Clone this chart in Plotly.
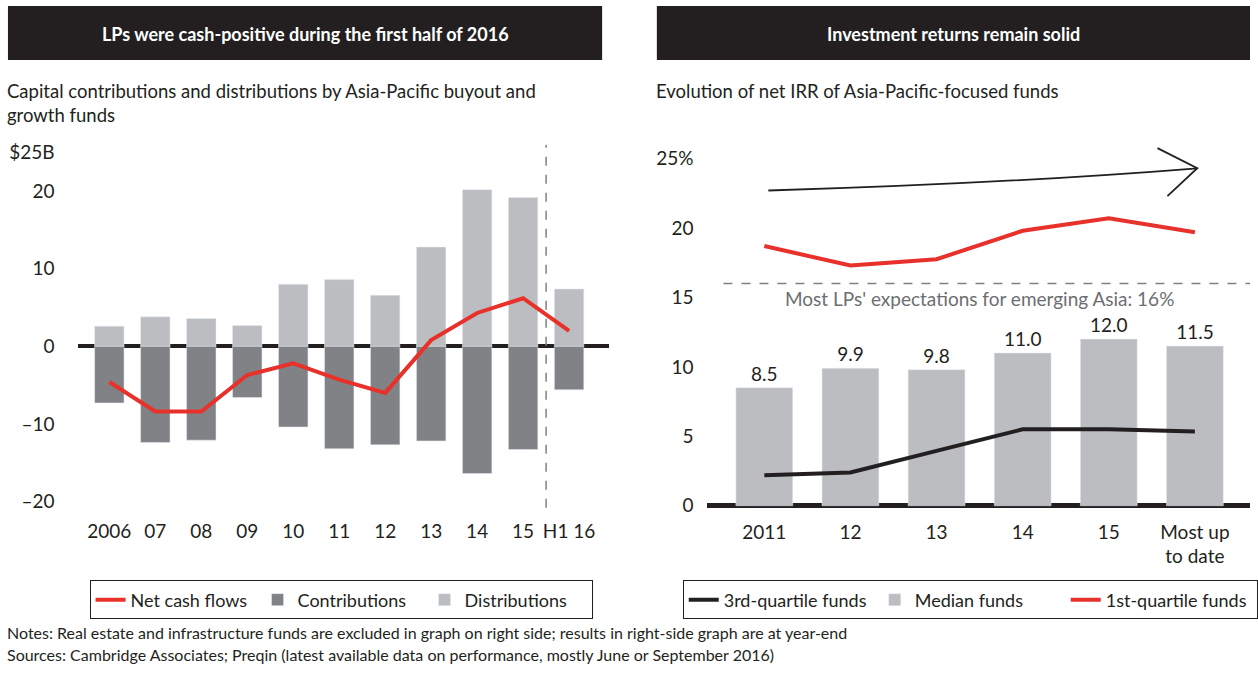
import plotly.graph_objects as go

W, H = 1258, 674

# ---------------- data ----------------
left_categories = ["2006", "07", "08", "09", "10", "11", "12", "13", "14", "15", "H1 16"]
distributions = [2.6, 3.8, 3.6, 2.7, 8.0, 8.6, 6.6, 12.8, 20.2, 19.2, 7.4]
contributions = [-7.3, -12.4, -12.1, -6.6, -10.4, -13.2, -12.7, -12.2, -16.4, -13.3, -5.6]
net_cash_flows = [-4.6, -8.4, -8.4, -3.7, -2.2, -4.3, -6.0, 0.8, 4.3, 6.2, 2.0]
left_tickvals = [25, 20, 10, 0, -10, -20]
left_ticktext = ["$25B", "20", "10", "0", "\u201310", "\u201320"]

right_categories = ["2011", "12", "13", "14", "15", "Most up<br>to date"]
median_funds = [8.5, 9.9, 9.8, 11.0, 12.0, 11.5]
median_labels = ["8.5", "9.9", "9.8", "11.0", "12.0", "11.5"]
third_quartile = [2.2, 2.4, 3.95, 5.5, 5.5, 5.35]
first_quartile = [18.7, 17.3, 17.75, 19.8, 20.7, 19.7]
lp_expectation = 16
right_tickvals = [0, 5, 10, 15, 20, 25]
right_ticktext = ["0", "5", "10", "15", "20", "25%"]

# ---------------- style ----------------
FONT = "Lato"
TXT = "#231F20"
RED = "#E8312A"
LIGHT = "#BCBDC0"
DARK = "#818285"


def px_x(p):
    return p / W


def px_y(p):
    return 1 - p / H


fig = go.Figure()

# Left chart
fig.add_trace(go.Scatter(x=left_categories, y=net_cash_flows, mode="lines",
                         line=dict(color=RED, width=4), name="Net cash flows",
                         xaxis="x", yaxis="y", legend="legend"))
fig.add_trace(go.Bar(x=left_categories, y=contributions, marker_color=DARK,
                     name="Contributions", width=0.64, xaxis="x", yaxis="y", legend="legend"))
fig.add_trace(go.Bar(x=left_categories, y=distributions, marker_color=LIGHT,
                     name="Distributions", width=0.64, xaxis="x", yaxis="y", legend="legend"))

# Right chart
fig.add_trace(go.Scatter(x=right_categories, y=third_quartile, mode="lines",
                         line=dict(color=TXT, width=4), name="3rd-quartile funds",
                         xaxis="x2", yaxis="y2", legend="legend2"))
fig.add_trace(go.Bar(x=right_categories, y=median_funds, marker_color=LIGHT,
                     name="Median funds", width=0.66, text=median_labels,
                     textposition="outside", textfont=dict(size=19, color=TXT, family=FONT),
                     cliponaxis=False, xaxis="x2", yaxis="y2", legend="legend2"))
fig.add_trace(go.Scatter(x=right_categories, y=first_quartile, mode="lines",
                         line=dict(color=RED, width=4), name="1st-quartile funds",
                         xaxis="x2", yaxis="y2", legend="legend2"))

axis_font = dict(family=FONT, size=19, color=TXT)
legend_font = dict(family=FONT, size=18, color=TXT)

fig.update_layout(
    width=W, height=H,
    margin=dict(l=0, r=0, t=0, b=0),
    paper_bgcolor="white", plot_bgcolor="white",
    font=dict(family=FONT, color=TXT, size=18),
    barmode="overlay",
    xaxis=dict(domain=[px_x(78), px_x(612)], range=[-0.69, 10.87], type="category",
               showgrid=False, showline=False, ticks="", tickfont=axis_font,
               ticklabelstandoff=10, anchor="y"),
    yaxis=dict(domain=[px_y(512), px_y(143)], range=[-20.8, 26], showgrid=False,
               tickvals=left_tickvals, ticktext=left_ticktext, tickfont=axis_font,
               zeroline=True, zerolinecolor=TXT, zerolinewidth=4, ticks="",
               ticklabelstandoff=22, anchor="x"),
    xaxis2=dict(domain=[px_x(710), px_x(1256)], range=[-0.67, 5.64], type="category",
                showgrid=False, showline=False, ticks="", tickfont=axis_font,
                ticklabelstandoff=9, anchor="y2"),
    yaxis2=dict(domain=[px_y(514), px_y(143)], range=[-0.28, 26.0], showgrid=False,
                tickvals=right_tickvals, ticktext=right_ticktext, tickfont=axis_font,
                zeroline=True, zerolinecolor=TXT, zerolinewidth=5, ticks="",
                ticklabelstandoff=12, anchor="x2"),
    legend=dict(x=px_x(90), y=px_y(586), xanchor="left", yanchor="top",
                orientation="h", bordercolor=TXT, borderwidth=1, bgcolor="white",
                font=legend_font, traceorder="normal", entrywidth=122,
                entrywidthmode="pixels"),
    legend2=dict(x=px_x(686), y=px_y(586), xanchor="left", yanchor="top",
                 orientation="h", bordercolor=TXT, borderwidth=1, bgcolor="white",
                 font=legend_font, traceorder="normal", entrywidth=146,
                 entrywidthmode="pixels"),
)

shapes = [
    # header bars
    dict(type="rect", xref="paper", yref="paper", x0=px_x(8), x1=px_x(605),
         y0=px_y(57), y1=px_y(2), fillcolor=TXT, line_width=0),
    dict(type="rect", xref="paper", yref="paper", x0=px_x(660), x1=px_x(1256),
         y0=px_y(57), y1=px_y(2), fillcolor=TXT, line_width=0),
    # H1 separator
    dict(type="line", xref="x", yref="y domain", x0=9.5, x1=9.5, y0=0, y1=1,
         line=dict(color="#808080", width=1.5, dash="dash")),
    # LP expectation line
    dict(type="line", xref="x2 domain", yref="y2", x0=0.031, x1=1,
         y0=lp_expectation, y1=lp_expectation,
         line=dict(color="#808080", width=1.5, dash="dash")),
    # trend arrow shaft
    dict(type="path", xref="x2 domain", yref="y2",
         path="M 0.1136,22.7 Q 0.55,23.2 0.903,24.3",
         line=dict(color=TXT, width=1.8)),
    # arrow head
    dict(type="path", xref="x2 domain", yref="y2",
         path="M 0.8297,25.75 L 0.903,24.3 L 0.848,22.3",
         line=dict(color=TXT, width=1.8)),
]
fig.update_layout(shapes=shapes)

ann = [
    dict(text="<b>LPs were cash-positive during the first half of 2016</b>",
         x=px_x(306.5), y=px_y(30), xref="paper", yref="paper", showarrow=False,
         font=dict(family=FONT, size=18, color="white"), xanchor="center", yanchor="middle"),
    dict(text="<b>Investment returns remain solid</b>",
         x=px_x(958), y=px_y(30), xref="paper", yref="paper", showarrow=False,
         font=dict(family=FONT, size=18, color="white"), xanchor="center", yanchor="middle"),
    dict(text="Capital contributions and distributions by Asia-Pacific buyout and<br>growth funds",
         x=px_x(5), y=px_y(75), xref="paper", yref="paper", showarrow=False, align="left",
         font=dict(family=FONT, size=18.5, color=TXT), xanchor="left", yanchor="top"),
    dict(text="Evolution of net IRR of Asia-Pacific-focused funds",
         x=px_x(657), y=px_y(75), xref="paper", yref="paper", showarrow=False, align="left",
         font=dict(family=FONT, size=18.5, color=TXT), xanchor="left", yanchor="top"),
    dict(text="Most LPs' expectations for emerging Asia: 16%",
         x=2.5, y=lp_expectation, xref="x2", yref="y2", showarrow=False,
         font=dict(family=FONT, size=19, color="#6D6E71"), xanchor="center", yanchor="top",
         yshift=-1),
    dict(text="Notes: Real estate and infrastructure funds are excluded in graph on right side; results in right-side graph are at year-end",
         x=px_x(5), y=px_y(639), xref="paper", yref="paper", showarrow=False,
         font=dict(family=FONT, size=16, color=TXT), xanchor="left", yanchor="middle"),
    dict(text="Sources: Cambridge Associates; Preqin (latest available data on performance, mostly June or September 2016)",
         x=px_x(5), y=px_y(661), xref="paper", yref="paper", showarrow=False,
         font=dict(family=FONT, size=16, color=TXT), xanchor="left", yanchor="middle"),
]
fig.update_layout(annotations=ann)

fig.write_html("out.html", config={"displayModeBar": False},
               post_script="document.body.style.margin='0px';document.body.style.overflow='hidden';")
